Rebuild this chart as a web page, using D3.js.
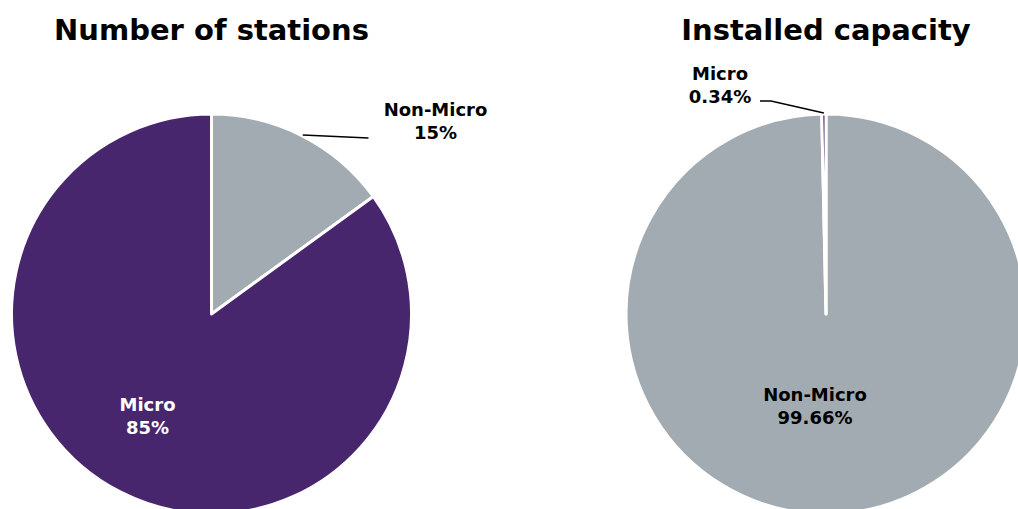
<!DOCTYPE html>
<html>
<head>
<meta charset="utf-8">
<script src="https://cdn.jsdelivr.net/npm/d3@7"></script>
<style>
  body { margin: 0; background: #fff; }
  text { font-family: "DejaVu Sans", Verdana, sans-serif; font-weight: bold; }
</style>
</head>
<body>
<svg id="chart" width="1018" height="509"></svg>
<script>
// ---------- data ----------
var categories = ["Non-Micro", "Micro"];
var stationShares = [15, 85];          // % of stations
var capacityShares = [99.66, 0.34];    // % of installed capacity
var stationLabels = ["15%", "85%"];
var capacityLabels = ["99.66%", "0.34%"];
var titles = ["Number of stations", "Installed capacity"];

var colors = d3.scaleOrdinal()
  .domain(categories)
  .range(["#a2abb1", "#48266e"]);

var svg = d3.select("#chart");
var radius = 200;

// label placement per pie / slice (relative to the pie centre)
var layouts = [
  {
    cx: 211.5, cy: 314,
    labels: [
      { outside: true, x: 224, y: -198, lineEnd: [157, -176], anchor: "middle", fill: "#000" },
      { outside: false, x: -64, y: 97, anchor: "middle", fill: "#fff" }
    ]
  },
  {
    cx: 826, cy: 314,
    labels: [
      { outside: false, x: -11, y: 87, anchor: "middle", fill: "#000" },
      { outside: true, x: -106, y: -234, lineEnd: [-55, -213], lineEnd2: [-66, -213], anchor: "middle", fill: "#000" }
    ]
  }
];

var pie = d3.pie().sort(null).value(function (d) { return d; });
var arc = d3.arc().innerRadius(0).outerRadius(radius);
var edgeArc = d3.arc().innerRadius(radius + 2).outerRadius(radius + 2);

var drawPie = function (values, texts, layout, title)
{
  var g = svg.append("g")
    .attr("transform", "translate(" + layout.cx + "," + layout.cy + ")");

  var arcs = pie(values);

  g.selectAll("path.slice")
    .data(arcs)
    .enter()
    .append("path")
    .attr("class", "slice")
    .attr("d", arc)
    .attr("fill", function (d, i) { return colors(categories[i]); })
    .attr("stroke", "#fff")
    .attr("stroke-width", 3)
    .attr("stroke-linejoin", "round");

  // leader lines
  arcs.forEach(function (d, i)
  {
    var lab = layout.labels[i];
    if (!lab.outside) return;
    var a = (d.startAngle + d.endAngle) / 2;
    var p0 = [Math.sin(a) * (radius + 1), -Math.cos(a) * (radius + 1)];
    var pts = [p0, lab.lineEnd];
    if (lab.lineEnd2) pts.push(lab.lineEnd2);
    g.append("path")
      .attr("d", d3.line()(pts))
      .attr("fill", "none")
      .attr("stroke", "#000")
      .attr("stroke-width", 1.5);
  });

  // labels
  arcs.forEach(function (d, i)
  {
    var lab = layout.labels[i];
    var t = g.append("text")
      .attr("text-anchor", lab.anchor)
      .attr("fill", lab.fill)
      .attr("font-size", 18)
      .attr("x", lab.x)
      .attr("y", lab.y);
    t.append("tspan").attr("x", lab.x).text(categories[i]);
    t.append("tspan").attr("x", lab.x).attr("dy", 23).text(texts[i]);
  });

  svg.append("text")
    .attr("x", layout.cx)
    .attr("y", 40)
    .attr("text-anchor", "middle")
    .attr("font-size", 29)
    .attr("fill", "#000")
    .text(title);
};

drawPie(stationShares, stationLabels, layouts[0], titles[0]);
drawPie(capacityShares, capacityLabels, layouts[1], titles[1]);
</script>
</body>
</html>
